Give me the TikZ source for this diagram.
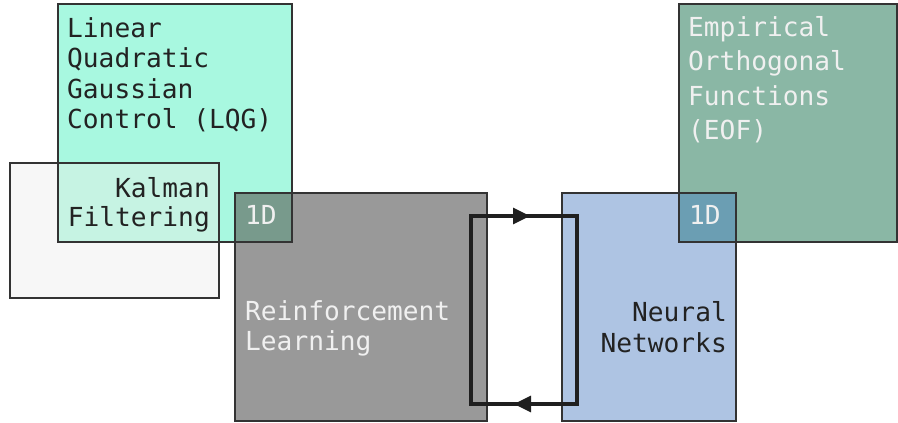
\documentclass[tikz,border=0pt]{standalone}
\usepackage{fontspec}
\setmonofont{DejaVu Sans Mono}
\usetikzlibrary{arrows.meta}
\definecolor{kalc}{HTML}{F7F7F7}
\definecolor{lqgc}{HTML}{A8F8E0}
\definecolor{klc}{HTML}{C6F3E3}
\definecolor{rlc}{HTML}{999999}
\definecolor{rllc}{HTML}{789A8C}
\definecolor{nnc}{HTML}{AEC4E3}
\definecolor{eofc}{HTML}{8AB7A5}
\definecolor{nec}{HTML}{6B9EB3}
\definecolor{edgec}{HTML}{333333}
\definecolor{darktxt}{HTML}{222222}
\definecolor{lighttxt}{HTML}{F0F0F0}
\begin{document}
\begin{tikzpicture}[x=1pt,y=-1pt,
  box/.style={draw=edgec, line width=1.6pt, inner sep=0pt, outer sep=0pt, anchor=north west},
  lbl/.style={inner sep=0pt, font=\ttfamily\fontsize{26.2}{30}\selectfont},
  dk/.style={lbl, text=darktxt},
  lt/.style={lbl, text=lighttxt},
  conn/.style={draw=black!88, line width=3.2pt},
  arrowtip/.style={-{Triangle[length=17pt,width=16pt]}}]
\useasboundingbox (0,0) rectangle (898,423);
% Kalman / LQG
\node[box, fill=kalc, minimum width=209pt, minimum height=135pt] (kal) at (10,163) {};
\node[box, fill=lqgc, minimum width=234pt, minimum height=238pt] (lqg) at (58,4) {};
\node[box, fill=klc, minimum width=161pt, minimum height=79pt] (kl) at (58,163) {};
% RL
\node[box, fill=rlc, minimum width=252pt, minimum height=228pt] (rl) at (235,193) {};
\node[box, fill=rllc, minimum width=57pt, minimum height=49pt] (rll) at (235,193) {};
% NN / EOF
\node[box, fill=nnc, minimum width=174pt, minimum height=228pt] (nn) at (562,193) {};
\node[box, fill=eofc, minimum width=218pt, minimum height=238pt] (eof) at (679,4) {};
\node[box, fill=nec, minimum width=57pt, minimum height=49pt] (ne) at (679,193) {};
% texts
\node[dk, anchor=base west] (t1) at (67,37) {Linear};
\node[dk, anchor=base west] (t2) at (67,67.5) {Quadratic};
\node[dk, anchor=base west] (t3) at (67,98) {Gaussian};
\node[dk, anchor=base west] (t4) at (67,128.5) {Control (LQG)};
\node[dk, anchor=base east] (k1) at (210,197) {Kalman};
\node[dk, anchor=base east] (k2) at (210,226) {Filtering};
\node[lt, anchor=base west] (r1) at (245,320) {Reinforcement};
\node[lt, anchor=base west] (r2) at (245,350) {Learning};
\node[dk, anchor=base east] (n1) at (727,321) {Neural};
\node[dk, anchor=base east] (n2) at (727,352) {Networks};
\node[lt, anchor=base west] (e1) at (688,36) {Empirical};
\node[lt, anchor=base west] (e2) at (688,70.5) {Orthogonal};
\node[lt, anchor=base west] (e3) at (688,105) {Functions};
\node[lt, anchor=base west] (e4) at (688,139) {(EOF)};
\node[lt, anchor=base west] (d1) at (245,224) {1D};
\node[lt, anchor=base west] (d2) at (689,224) {1D};
% loop connector
\coordinate (lt0) at (471,216);
\coordinate (rt0) at (577,216);
\coordinate (rb0) at (577,404);
\coordinate (lb0) at (471,404);
\coordinate (ts) at (500,216);
\coordinate (ta) at (530,216);
\coordinate (bs) at (545,404);
\coordinate (ba) at (514,404);
\draw[conn, line join=miter] (lt0) -- (rt0) -- (rb0) -- (lb0) -- cycle;
\draw[conn, arrowtip] (ts) -- (ta);
\draw[conn, arrowtip] (bs) -- (ba);
\end{tikzpicture}
\end{document}
